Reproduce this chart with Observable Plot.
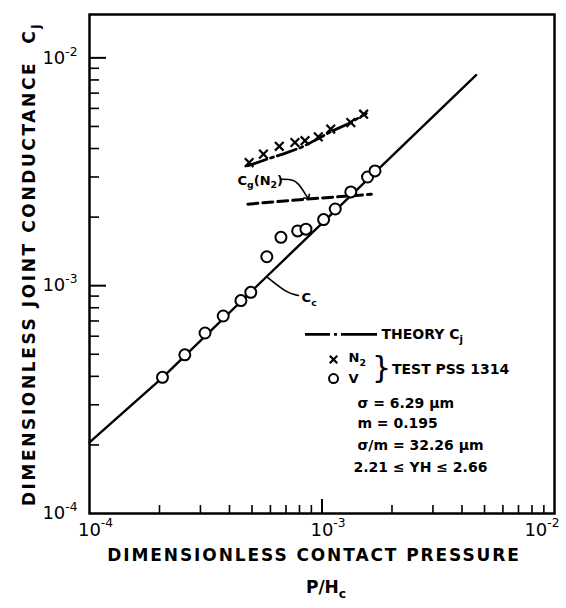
<!DOCTYPE html>
<html><head><meta charset="utf-8">
<script src="https://cdn.jsdelivr.net/npm/d3@7"></script>
<script src="https://cdn.jsdelivr.net/npm/@observablehq/plot@0.6"></script>
<style>body{margin:0;background:#fff}</style>
</head><body><div id="chart"></div>
<script>
// Test data, vacuum (V): open circles
const vX = [2.06e-4, 2.57e-4, 3.14e-4, 3.76e-4, 4.48e-4, 4.94e-4, 5.79e-4, 6.66e-4, 7.86e-4, 8.53e-4, 1.016e-3, 1.14e-3, 1.33e-3, 1.57e-3, 1.69e-3];
const vY = [3.96e-4, 4.97e-4, 6.2e-4, 7.36e-4, 8.6e-4, 9.35e-4, 1.34e-3, 1.63e-3, 1.74e-3, 1.77e-3, 1.95e-3, 2.17e-3, 2.58e-3, 3.0e-3, 3.19e-3];
// Test data, nitrogen (N2): crosses
const n2X = [4.86e-4, 5.6e-4, 6.55e-4, 7.65e-4, 8.45e-4, 9.64e-4, 1.09e-3, 1.33e-3, 1.51e-3];
const n2Y = [3.47e-3, 3.78e-3, 4.09e-3, 4.25e-3, 4.33e-3, 4.5e-3, 4.87e-3, 5.2e-3, 5.66e-3];
// Theory Cj (N2), dash-dot
const theoryX = [4.8e-4, 5.83e-4, 6.88e-4, 8.12e-4, 9.57e-4, 1.094e-3, 1.29e-3, 1.55e-3];
const theoryY = [3.36e-3, 3.6e-3, 3.8e-3, 4.04e-3, 4.4e-3, 4.75e-3, 5.12e-3, 5.7e-3];
// Gas gap conductance Cg(N2), dashed
const cgX = [4.8e-4, 8.68e-4, 1.63e-3];
const cgY = [2.28e-3, 2.40e-3, 2.52e-3];
// Contact conductance Cc, solid
const ccX = [1e-4, 2.06e-4, 5.8e-4, 4.6e-3];
const ccY = [2.05e-4, 3.95e-4, 1.1e-3, 8.4e-3];
// Axis ticks
const xDecades = [1e-4, 1e-3, 1e-2];
const yDecades = [1e-4, 1e-3, 1e-2];
const decadeLabels = ["10^{-4}", "10^{-3}", "10^{-2}"];
const minorMult = [2, 3, 4, 5, 6, 7, 8, 9];
// Annotation leaders (data units)
const cgLeaderX = [6.63e-4, 7.62e-4, 8.08e-4, 8.66e-4];
const cgLeaderY = [2.93e-3, 2.93e-3, 2.73e-3, 2.44e-3];
const ccLeaderX = [5.81e-4, 7.11e-4, 7.92e-4];
const ccLeaderY = [1.09e-3, 9.24e-4, 9.06e-4];
const legendLines = ["\u03c3 = 6.29 \u03bcm", "m = 0.195", "\u03c3/m = 32.26 \u03bcm", "2.21 \u2264 YH \u2264 2.66"];

const zip = (X, Y) => X.map((x, i) => ({x, y: Y[i]}));
const vData = zip(vX, vY), n2Data = zip(n2X, n2Y), theoryData = zip(theoryX, theoryY);
const cgData = zip(cgX, cgY), ccData = zip(ccX, ccY);
const cgLeader = zip(cgLeaderX, cgLeaderY), ccLeader = zip(ccLeaderX, ccLeaderY);
const minorX = [1e-4, 1e-3].flatMap(d => minorMult.map(m => d * m));
const minorY = [1e-4, 1e-3].flatMap(d => minorMult.map(m => d * m));

const W = 566, H = 608, ML = 89, MR = 12, MT = 14, MB = 95;
const FW = W - ML - MR, FH = H - MT - MB;
const bold = {fontWeight: "bold", fill: "black"};

const plot = Plot.plot({
  width: W, height: H,
  marginLeft: ML, marginRight: MR, marginTop: MT, marginBottom: MB,
  x: {type: "log", domain: [1e-4, 1e-2], axis: null},
  y: {type: "log", domain: [1e-4, 1.55e-2], axis: null},
  style: {fontFamily: "DejaVu Sans", background: "white", color: "black", overflow: "visible"},
  marks: [
    Plot.ruleX(minorX, {x: d => d, insetTop: FH - 8, strokeWidth: 1.6, stroke: "black"}),
    Plot.ruleX([1e-3], {x: d => d, insetTop: FH - 14, strokeWidth: 2, stroke: "black"}),
    Plot.ruleY(minorY, {y: d => d, insetRight: FW - 10, strokeWidth: 1.6, stroke: "black"}),
    Plot.ruleY([1e-3, 1e-2], {y: d => d, insetRight: FW - 17, strokeWidth: 2, stroke: "black"}),
    Plot.frame({stroke: "black", strokeWidth: 2.5}),
    Plot.text(xDecades.slice(0, 2), {x: d => d, text: (d, i) => decadeLabels[i], frameAnchor: "bottom", textAnchor: "middle", dy: 22, dx: 6, fontSize: 18, fill: "black"}),
    Plot.text(xDecades.slice(2), {x: d => d, text: () => decadeLabels[2], frameAnchor: "bottom", textAnchor: "end", dy: 22, dx: 5, fontSize: 18, fill: "black"}),
    Plot.text(yDecades, {y: d => d, text: (d, i) => decadeLabels[i], frameAnchor: "left", dx: -12, textAnchor: "end", fontSize: 18, fill: "black"}),
    Plot.text(["DIMENSIONLESS CONTACT PRESSURE"], {frameAnchor: "bottom", textAnchor: "middle", dy: 47, dx: -8, fontSize: 17, ...bold}),
    Plot.text(["P/H_{c}"], {frameAnchor: "bottom", textAnchor: "middle", dy: 79, dx: 4, fontSize: 17, ...bold}),
    Plot.text(["DIMENSIONLESS JOINT CONDUCTANCE  C_{j}"], {frameAnchor: "left", textAnchor: "middle", dx: -60, dy: 0, rotate: -90, fontSize: 17, ...bold}),
    Plot.line(ccData, {x: "x", y: "y", stroke: "black", strokeWidth: 2.4}),
    Plot.line(theoryData, {x: "x", y: "y", stroke: "black", strokeWidth: 2.8, strokeDasharray: "20,4,3,4"}),
    Plot.line(cgData, {x: "x", y: "y", stroke: "black", strokeWidth: 3, strokeDasharray: "10,5"}),
    Plot.dot(vData, {x: "x", y: "y", r: 5.5, stroke: "black", fill: "white", strokeWidth: 2}),
    Plot.dot(n2Data, {x: "x", y: "y", symbol: "times", r: 4, stroke: "black", strokeWidth: 2.2}),
    // annotations
    Plot.line(cgLeader, {x: "x", y: "y", stroke: "black", strokeWidth: 1.6, curve: "basis", markerEnd: "arrow"}),
    Plot.text(["C_{g}(N_{2})"], {x: 4.33e-4, y: 2.90e-3, textAnchor: "start", fontSize: 13, ...bold}),
    Plot.line(ccLeader, {x: "x", y: "y", stroke: "black", strokeWidth: 1.6, curve: "basis"}),
    Plot.text(["C_{c}"], {x: 8.17e-4, y: 8.87e-4, textAnchor: "start", fontSize: 13, ...bold}),
    // legend
    Plot.ruleY([6.11e-4], {y: d => d, x1: 8.49e-4, x2: 1.733e-3, stroke: "black", strokeWidth: 2.8, strokeDasharray: "25,4,3,4,40"}),
    Plot.text(["THEORY C_{j}"], {x: 1.803e-3, y: 6.11e-4, textAnchor: "start", fontSize: 14, ...bold}),
    Plot.dot([0], {x: 1.121e-3, y: 4.74e-4, symbol: "times", r: 3.5, stroke: "black", strokeWidth: 2.2}),
    Plot.text(["N_{2}"], {x: 1.30e-3, y: 4.8e-4, textAnchor: "start", fontSize: 13, ...bold}),
    Plot.dot([0], {x: 1.121e-3, y: 3.91e-4, r: 4.5, stroke: "black", fill: "white", strokeWidth: 2}),
    Plot.text(["V"], {x: 1.30e-3, y: 3.91e-4, textAnchor: "start", fontSize: 13, ...bold}),
    Plot.text(["}"], {x: 1.64e-3, y: 4.33e-4, textAnchor: "start", fontSize: 30, fill: "black"}),
    Plot.text(["TEST PSS 1314"], {x: 2.0e-3, y: 4.29e-4, textAnchor: "start", fontSize: 14, ...bold}),
    Plot.text(legendLines, {x: (d, i) => i === 3 ? 1.366e-3 : 1.42e-3, y: (d, i) => [3.04e-4, 2.48e-4, 1.99e-4, 1.59e-4][i], text: d => d, textAnchor: "start", fontSize: 14, ...bold})
  ]
});
document.getElementById("chart").appendChild(plot);

// Rich text: _{..} subscript, ^{..} superscript
plot.querySelectorAll("text").forEach(t => {
  const s = t.textContent;
  if (s.startsWith("DIMENSIONLESS C")) t.style.letterSpacing = "1.9px";
  if (s.startsWith("DIMENSIONLESS J")) t.style.letterSpacing = "2.6px";
  if (!/[_^]\{/.test(s)) return;
  const fs = parseFloat(getComputedStyle(t).fontSize) || 14;
  t.textContent = "";
  const parts = s.split(/([_^]\{[^}]*\})/).filter(p => p.length);
  let shift = 0;
  parts.forEach(p => {
    const ts = document.createElementNS("http://www.w3.org/2000/svg", "tspan");
    let target = 0, content = p;
    if (p.startsWith("_{")) { target = 0.3 * fs; content = p.slice(2, -1); ts.setAttribute("font-size", (0.72 * fs) + "px"); }
    else if (p.startsWith("^{")) { target = -0.45 * fs; content = p.slice(2, -1); ts.setAttribute("font-size", (0.68 * fs) + "px"); }
    if (target !== shift) { ts.setAttribute("dy", target - shift); shift = target; }
    ts.textContent = content;
    t.appendChild(ts);
  });
});
</script>
</body></html>
